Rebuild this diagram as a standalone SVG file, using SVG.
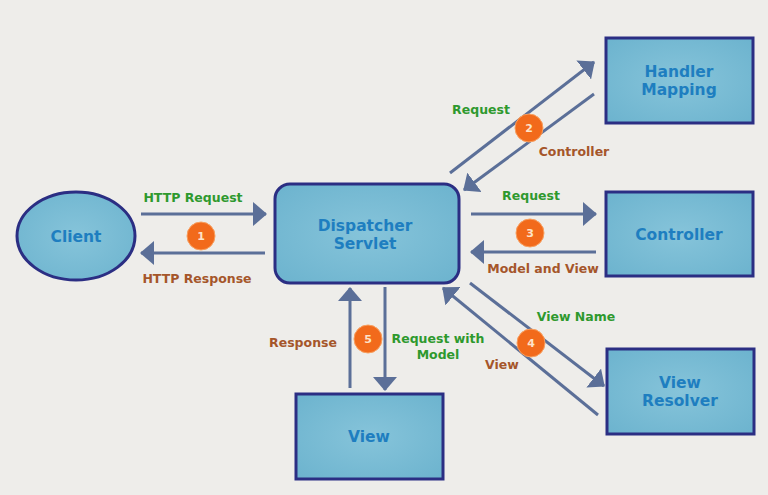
<svg xmlns="http://www.w3.org/2000/svg" width="768" height="495" viewBox="0 0 768 495">
<style>
.node{fill:url(#g);stroke:#2B2E83;stroke-width:3}
.nt{font-family:"DejaVu Sans",Verdana,sans-serif;font-weight:bold;font-size:15.5px;fill:#1E7EC0;text-anchor:middle}
.lbl{font-family:"DejaVu Sans",Verdana,sans-serif;font-weight:bold;font-size:12.5px;text-anchor:middle}
.gr{fill:#2E992E}
.br{fill:#A5562A}
.ar{stroke:#5B6F98;stroke-width:3;fill:none;marker-end:url(#ah)}
.bd{fill:#F26A1B;stroke:#F8A060;stroke-width:1}
.bn{font-family:"DejaVu Sans",Verdana,sans-serif;font-weight:bold;font-size:11px;fill:#FDE3C8;text-anchor:middle}
</style>
<defs>
<radialGradient id="g" cx="50%" cy="50%" r="70%">
<stop offset="0" stop-color="#86C4DA"/>
<stop offset="1" stop-color="#6CB3CE"/>
</radialGradient>
<marker id="ah" viewBox="0 0 14 24" refX="13" refY="12" markerWidth="14" markerHeight="24" markerUnits="userSpaceOnUse" orient="auto">
<path d="M0,0 L14,12 L0,24 Z" fill="#5B6F98"/>
</marker>
</defs>
<rect width="768" height="495" fill="#EEEDEA"/>
<g id="connectors">
<line class="ar" x1="141" y1="214" x2="266" y2="214"/>
<line class="ar" x1="265" y1="253" x2="141" y2="253"/>
<line class="ar" x1="450" y1="173" x2="594" y2="62"/>
<line class="ar" x1="594" y1="94" x2="464" y2="190"/>
<line class="ar" x1="471" y1="214" x2="596" y2="214"/>
<line class="ar" x1="596" y1="252" x2="471" y2="252"/>
<line class="ar" x1="470" y1="283" x2="604" y2="386"/>
<line class="ar" x1="598" y1="415" x2="443" y2="288"/>
<line class="ar" x1="350" y1="388" x2="350" y2="288"/>
<line class="ar" x1="385" y1="287" x2="385" y2="390"/>
</g>
<g id="labels">
<text class="lbl gr" x="193" y="202">HTTP Request</text>
<text class="lbl br" x="197" y="283">HTTP Response</text>
<text class="lbl gr" x="481" y="114">Request</text>
<text class="lbl br" x="574" y="156">Controller</text>
<text class="lbl gr" x="531" y="200">Request</text>
<text class="lbl br" x="543" y="273">Model and View</text>
<text class="lbl gr" x="576" y="321">View Name</text>
<text class="lbl br" x="502" y="369">View</text>
<text class="lbl br" x="303" y="347">Response</text>
<text class="lbl gr" x="438" y="343">Request with</text>
<text class="lbl gr" x="438" y="359">Model</text>
</g>
<g id="badges">
<circle class="bd" cx="201" cy="236" r="14"/><text class="bn" x="201" y="240">1</text>
<circle class="bd" cx="529" cy="128" r="14"/><text class="bn" x="529" y="132">2</text>
<circle class="bd" cx="530" cy="233" r="14"/><text class="bn" x="530" y="237">3</text>
<circle class="bd" cx="531" cy="343" r="14"/><text class="bn" x="531" y="347">4</text>
<circle class="bd" cx="368" cy="339" r="14"/><text class="bn" x="368" y="343">5</text>
</g>
<g id="client">
<ellipse class="node" cx="76" cy="236" rx="59" ry="44"/>
<text class="nt" x="76" y="242">Client</text>
</g>
<g id="dispatcher">
<rect class="node" x="275" y="184" width="184" height="99" rx="15"/>
<text class="nt" x="365" y="231">Dispatcher</text>
<text class="nt" x="365" y="249">Servlet</text>
</g>
<g id="handler">
<rect class="node" x="606" y="38" width="147" height="85"/>
<text class="nt" x="679" y="77">Handler</text>
<text class="nt" x="679" y="95">Mapping</text>
</g>
<g id="controller">
<rect class="node" x="606" y="192" width="147" height="84"/>
<text class="nt" x="679" y="240">Controller</text>
</g>
<g id="viewresolver">
<rect class="node" x="607" y="349" width="147" height="85"/>
<text class="nt" x="680" y="388">View</text>
<text class="nt" x="680" y="406">Resolver</text>
</g>
<g id="view">
<rect class="node" x="296" y="394" width="147" height="85"/>
<text class="nt" x="369" y="442">View</text>
</g>
</svg>
